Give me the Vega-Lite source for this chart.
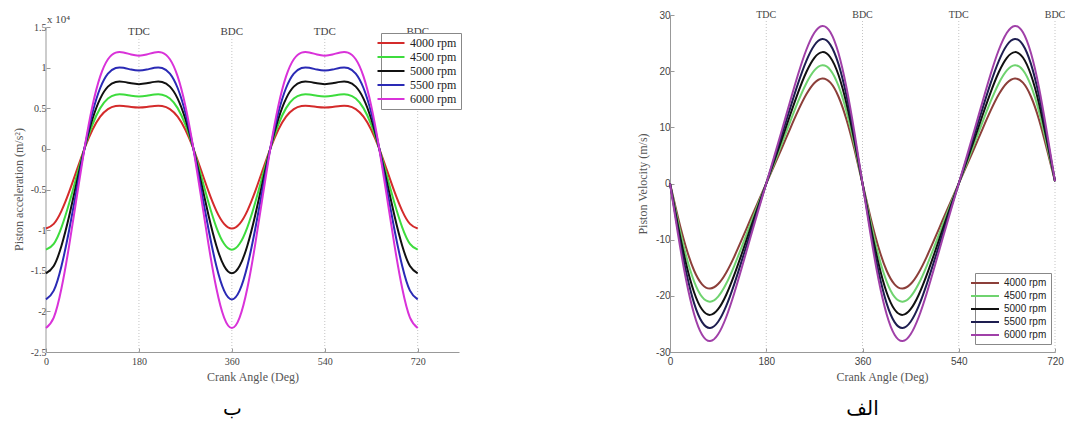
{
  "$schema": "https://vega.github.io/schema/vega-lite/v6.json",
  "background": "white",
  "padding": {"left": 12, "top": 10, "right": 0, "bottom": 0},
  "bounds": "flush",
  "spacing": 211,
  "config": {"view": {"stroke": null}},
  "datasets": {
    "acc": [
      {"deg":0,"4000 rpm":-9800,"4500 rpm":-12403,"5000 rpm":-15313,"5500 rpm":-18528,"6000 rpm":-22050},
      {"deg":15,"4000 rpm":-9231,"4500 rpm":-11683,"5000 rpm":-14423,"5500 rpm":-17452,"6000 rpm":-20770},
      {"deg":30,"4000 rpm":-7627,"4500 rpm":-9653,"5000 rpm":-11917,"5500 rpm":-14420,"6000 rpm":-17161},
      {"deg":45,"4000 rpm":-5268,"4500 rpm":-6667,"5000 rpm":-8231,"5500 rpm":-9960,"6000 rpm":-11853},
      {"deg":60,"4000 rpm":-2550,"4500 rpm":-3227,"5000 rpm":-3984,"5500 rpm":-4821,"6000 rpm":-5738},
      {"deg":75,"4000 rpm":107,"4500 rpm":135,"5000 rpm":167,"5500 rpm":202,"6000 rpm":241},
      {"deg":90,"4000 rpm":2350,"4500 rpm":2974,"5000 rpm":3672,"5500 rpm":4443,"6000 rpm":5288},
      {"deg":105,"4000 rpm":3963,"4500 rpm":5016,"5000 rpm":6192,"5500 rpm":7493,"6000 rpm":8917},
      {"deg":120,"4000 rpm":4900,"4500 rpm":6202,"5000 rpm":7656,"5500 rpm":9264,"6000 rpm":11025},
      {"deg":135,"4000 rpm":5268,"4500 rpm":6667,"5000 rpm":8231,"5500 rpm":9960,"6000 rpm":11853},
      {"deg":150,"4000 rpm":5277,"4500 rpm":6679,"5000 rpm":8245,"5500 rpm":9977,"6000 rpm":11873},
      {"deg":165,"4000 rpm":5161,"4500 rpm":6532,"5000 rpm":8064,"5500 rpm":9758,"6000 rpm":11612},
      {"deg":180,"4000 rpm":5100,"4500 rpm":6455,"5000 rpm":7969,"5500 rpm":9642,"6000 rpm":11475},
      {"deg":195,"4000 rpm":5161,"4500 rpm":6532,"5000 rpm":8064,"5500 rpm":9758,"6000 rpm":11612},
      {"deg":210,"4000 rpm":5277,"4500 rpm":6679,"5000 rpm":8245,"5500 rpm":9977,"6000 rpm":11873},
      {"deg":225,"4000 rpm":5268,"4500 rpm":6667,"5000 rpm":8231,"5500 rpm":9960,"6000 rpm":11853},
      {"deg":240,"4000 rpm":4900,"4500 rpm":6202,"5000 rpm":7656,"5500 rpm":9264,"6000 rpm":11025},
      {"deg":255,"4000 rpm":3963,"4500 rpm":5016,"5000 rpm":6192,"5500 rpm":7493,"6000 rpm":8917},
      {"deg":270,"4000 rpm":2350,"4500 rpm":2974,"5000 rpm":3672,"5500 rpm":4443,"6000 rpm":5288},
      {"deg":285,"4000 rpm":107,"4500 rpm":135,"5000 rpm":167,"5500 rpm":202,"6000 rpm":241},
      {"deg":300,"4000 rpm":-2550,"4500 rpm":-3227,"5000 rpm":-3984,"5500 rpm":-4821,"6000 rpm":-5738},
      {"deg":315,"4000 rpm":-5268,"4500 rpm":-6667,"5000 rpm":-8231,"5500 rpm":-9960,"6000 rpm":-11853},
      {"deg":330,"4000 rpm":-7627,"4500 rpm":-9653,"5000 rpm":-11917,"5500 rpm":-14420,"6000 rpm":-17161},
      {"deg":345,"4000 rpm":-9231,"4500 rpm":-11683,"5000 rpm":-14423,"5500 rpm":-17452,"6000 rpm":-20770},
      {"deg":360,"4000 rpm":-9800,"4500 rpm":-12403,"5000 rpm":-15313,"5500 rpm":-18528,"6000 rpm":-22050},
      {"deg":375,"4000 rpm":-9231,"4500 rpm":-11683,"5000 rpm":-14423,"5500 rpm":-17452,"6000 rpm":-20770},
      {"deg":390,"4000 rpm":-7627,"4500 rpm":-9653,"5000 rpm":-11917,"5500 rpm":-14420,"6000 rpm":-17161},
      {"deg":405,"4000 rpm":-5268,"4500 rpm":-6667,"5000 rpm":-8231,"5500 rpm":-9960,"6000 rpm":-11853},
      {"deg":420,"4000 rpm":-2550,"4500 rpm":-3227,"5000 rpm":-3984,"5500 rpm":-4821,"6000 rpm":-5738},
      {"deg":435,"4000 rpm":107,"4500 rpm":135,"5000 rpm":167,"5500 rpm":202,"6000 rpm":241},
      {"deg":450,"4000 rpm":2350,"4500 rpm":2974,"5000 rpm":3672,"5500 rpm":4443,"6000 rpm":5288},
      {"deg":465,"4000 rpm":3963,"4500 rpm":5016,"5000 rpm":6192,"5500 rpm":7493,"6000 rpm":8917},
      {"deg":480,"4000 rpm":4900,"4500 rpm":6202,"5000 rpm":7656,"5500 rpm":9264,"6000 rpm":11025},
      {"deg":495,"4000 rpm":5268,"4500 rpm":6667,"5000 rpm":8231,"5500 rpm":9960,"6000 rpm":11853},
      {"deg":510,"4000 rpm":5277,"4500 rpm":6679,"5000 rpm":8245,"5500 rpm":9977,"6000 rpm":11873},
      {"deg":525,"4000 rpm":5161,"4500 rpm":6532,"5000 rpm":8064,"5500 rpm":9758,"6000 rpm":11612},
      {"deg":540,"4000 rpm":5100,"4500 rpm":6455,"5000 rpm":7969,"5500 rpm":9642,"6000 rpm":11475},
      {"deg":555,"4000 rpm":5161,"4500 rpm":6532,"5000 rpm":8064,"5500 rpm":9758,"6000 rpm":11612},
      {"deg":570,"4000 rpm":5277,"4500 rpm":6679,"5000 rpm":8245,"5500 rpm":9977,"6000 rpm":11873},
      {"deg":585,"4000 rpm":5268,"4500 rpm":6667,"5000 rpm":8231,"5500 rpm":9960,"6000 rpm":11853},
      {"deg":600,"4000 rpm":4900,"4500 rpm":6202,"5000 rpm":7656,"5500 rpm":9264,"6000 rpm":11025},
      {"deg":615,"4000 rpm":3963,"4500 rpm":5016,"5000 rpm":6192,"5500 rpm":7493,"6000 rpm":8917},
      {"deg":630,"4000 rpm":2350,"4500 rpm":2974,"5000 rpm":3672,"5500 rpm":4443,"6000 rpm":5288},
      {"deg":645,"4000 rpm":107,"4500 rpm":135,"5000 rpm":167,"5500 rpm":202,"6000 rpm":241},
      {"deg":660,"4000 rpm":-2550,"4500 rpm":-3227,"5000 rpm":-3984,"5500 rpm":-4821,"6000 rpm":-5738},
      {"deg":675,"4000 rpm":-5268,"4500 rpm":-6667,"5000 rpm":-8231,"5500 rpm":-9960,"6000 rpm":-11853},
      {"deg":690,"4000 rpm":-7627,"4500 rpm":-9653,"5000 rpm":-11917,"5500 rpm":-14420,"6000 rpm":-17161},
      {"deg":705,"4000 rpm":-9231,"4500 rpm":-11683,"5000 rpm":-14423,"5500 rpm":-17452,"6000 rpm":-20770},
      {"deg":720,"4000 rpm":-9800,"4500 rpm":-12403,"5000 rpm":-15313,"5500 rpm":-18528,"6000 rpm":-22050}
    ],
    "vel": [
      {"deg":0,"4000 rpm":0,"4500 rpm":0,"5000 rpm":0,"5500 rpm":0,"6000 rpm":0},
      {"deg":15,"4000 rpm":-6.05,"4500 rpm":-6.8,"5000 rpm":-7.56,"5500 rpm":-8.31,"6000 rpm":-9.07},
      {"deg":30,"4000 rpm":-11.4,"4500 rpm":-12.83,"5000 rpm":-14.25,"5500 rpm":-15.67,"6000 rpm":-17.1},
      {"deg":45,"4000 rpm":-15.49,"4500 rpm":-17.42,"5000 rpm":-19.36,"5500 rpm":-21.29,"6000 rpm":-23.23},
      {"deg":60,"4000 rpm":-17.95,"4500 rpm":-20.2,"5000 rpm":-22.44,"5500 rpm":-24.68,"6000 rpm":-26.93},
      {"deg":75,"4000 rpm":-18.7,"4500 rpm":-21.04,"5000 rpm":-23.39,"5500 rpm":-25.72,"6000 rpm":-28.06},
      {"deg":90,"4000 rpm":-17.9,"4500 rpm":-20.14,"5000 rpm":-22.38,"5500 rpm":-24.61,"6000 rpm":-26.85},
      {"deg":105,"4000 rpm":-15.88,"4500 rpm":-17.86,"5000 rpm":-19.85,"5500 rpm":-21.83,"6000 rpm":-23.81},
      {"deg":120,"4000 rpm":-13.05,"4500 rpm":-14.69,"5000 rpm":-16.32,"5500 rpm":-17.95,"6000 rpm":-19.58},
      {"deg":135,"4000 rpm":-9.83,"4500 rpm":-11.06,"5000 rpm":-12.29,"5500 rpm":-13.51,"6000 rpm":-14.74},
      {"deg":150,"4000 rpm":-6.5,"4500 rpm":-7.32,"5000 rpm":-8.13,"5500 rpm":-8.94,"6000 rpm":-9.75},
      {"deg":165,"4000 rpm":-3.22,"4500 rpm":-3.62,"5000 rpm":-4.02,"5500 rpm":-4.43,"6000 rpm":-4.83},
      {"deg":180,"4000 rpm":0,"4500 rpm":0,"5000 rpm":0,"5500 rpm":0,"6000 rpm":0},
      {"deg":195,"4000 rpm":3.22,"4500 rpm":3.62,"5000 rpm":4.02,"5500 rpm":4.43,"6000 rpm":4.83},
      {"deg":210,"4000 rpm":6.5,"4500 rpm":7.32,"5000 rpm":8.13,"5500 rpm":8.94,"6000 rpm":9.75},
      {"deg":225,"4000 rpm":9.83,"4500 rpm":11.06,"5000 rpm":12.29,"5500 rpm":13.51,"6000 rpm":14.74},
      {"deg":240,"4000 rpm":13.05,"4500 rpm":14.69,"5000 rpm":16.32,"5500 rpm":17.95,"6000 rpm":19.58},
      {"deg":255,"4000 rpm":15.88,"4500 rpm":17.86,"5000 rpm":19.85,"5500 rpm":21.83,"6000 rpm":23.81},
      {"deg":270,"4000 rpm":17.9,"4500 rpm":20.14,"5000 rpm":22.38,"5500 rpm":24.61,"6000 rpm":26.85},
      {"deg":285,"4000 rpm":18.7,"4500 rpm":21.04,"5000 rpm":23.39,"5500 rpm":25.72,"6000 rpm":28.06},
      {"deg":300,"4000 rpm":17.95,"4500 rpm":20.2,"5000 rpm":22.44,"5500 rpm":24.68,"6000 rpm":26.93},
      {"deg":315,"4000 rpm":15.49,"4500 rpm":17.42,"5000 rpm":19.36,"5500 rpm":21.29,"6000 rpm":23.23},
      {"deg":330,"4000 rpm":11.4,"4500 rpm":12.83,"5000 rpm":14.25,"5500 rpm":15.67,"6000 rpm":17.1},
      {"deg":345,"4000 rpm":6.05,"4500 rpm":6.8,"5000 rpm":7.56,"5500 rpm":8.31,"6000 rpm":9.07},
      {"deg":360,"4000 rpm":0,"4500 rpm":0,"5000 rpm":0,"5500 rpm":0,"6000 rpm":0},
      {"deg":375,"4000 rpm":-6.05,"4500 rpm":-6.8,"5000 rpm":-7.56,"5500 rpm":-8.31,"6000 rpm":-9.07},
      {"deg":390,"4000 rpm":-11.4,"4500 rpm":-12.83,"5000 rpm":-14.25,"5500 rpm":-15.67,"6000 rpm":-17.1},
      {"deg":405,"4000 rpm":-15.49,"4500 rpm":-17.42,"5000 rpm":-19.36,"5500 rpm":-21.29,"6000 rpm":-23.23},
      {"deg":420,"4000 rpm":-17.95,"4500 rpm":-20.2,"5000 rpm":-22.44,"5500 rpm":-24.68,"6000 rpm":-26.93},
      {"deg":435,"4000 rpm":-18.7,"4500 rpm":-21.04,"5000 rpm":-23.39,"5500 rpm":-25.72,"6000 rpm":-28.06},
      {"deg":450,"4000 rpm":-17.9,"4500 rpm":-20.14,"5000 rpm":-22.38,"5500 rpm":-24.61,"6000 rpm":-26.85},
      {"deg":465,"4000 rpm":-15.88,"4500 rpm":-17.86,"5000 rpm":-19.85,"5500 rpm":-21.83,"6000 rpm":-23.81},
      {"deg":480,"4000 rpm":-13.05,"4500 rpm":-14.69,"5000 rpm":-16.32,"5500 rpm":-17.95,"6000 rpm":-19.58},
      {"deg":495,"4000 rpm":-9.83,"4500 rpm":-11.06,"5000 rpm":-12.29,"5500 rpm":-13.51,"6000 rpm":-14.74},
      {"deg":510,"4000 rpm":-6.5,"4500 rpm":-7.32,"5000 rpm":-8.13,"5500 rpm":-8.94,"6000 rpm":-9.75},
      {"deg":525,"4000 rpm":-3.22,"4500 rpm":-3.62,"5000 rpm":-4.02,"5500 rpm":-4.43,"6000 rpm":-4.83},
      {"deg":540,"4000 rpm":0,"4500 rpm":0,"5000 rpm":0,"5500 rpm":0,"6000 rpm":0},
      {"deg":555,"4000 rpm":3.22,"4500 rpm":3.62,"5000 rpm":4.02,"5500 rpm":4.43,"6000 rpm":4.83},
      {"deg":570,"4000 rpm":6.5,"4500 rpm":7.32,"5000 rpm":8.13,"5500 rpm":8.94,"6000 rpm":9.75},
      {"deg":585,"4000 rpm":9.83,"4500 rpm":11.06,"5000 rpm":12.29,"5500 rpm":13.51,"6000 rpm":14.74},
      {"deg":600,"4000 rpm":13.05,"4500 rpm":14.69,"5000 rpm":16.32,"5500 rpm":17.95,"6000 rpm":19.58},
      {"deg":615,"4000 rpm":15.88,"4500 rpm":17.86,"5000 rpm":19.85,"5500 rpm":21.83,"6000 rpm":23.81},
      {"deg":630,"4000 rpm":17.9,"4500 rpm":20.14,"5000 rpm":22.38,"5500 rpm":24.61,"6000 rpm":26.85},
      {"deg":645,"4000 rpm":18.7,"4500 rpm":21.04,"5000 rpm":23.39,"5500 rpm":25.72,"6000 rpm":28.06},
      {"deg":660,"4000 rpm":17.95,"4500 rpm":20.2,"5000 rpm":22.44,"5500 rpm":24.68,"6000 rpm":26.93},
      {"deg":675,"4000 rpm":15.49,"4500 rpm":17.42,"5000 rpm":19.36,"5500 rpm":21.29,"6000 rpm":23.23},
      {"deg":690,"4000 rpm":11.4,"4500 rpm":12.83,"5000 rpm":14.25,"5500 rpm":15.67,"6000 rpm":17.1},
      {"deg":705,"4000 rpm":6.05,"4500 rpm":6.8,"5000 rpm":7.56,"5500 rpm":8.31,"6000 rpm":9.07},
      {"deg":720,"4000 rpm":0.4,"4500 rpm":0.4,"5000 rpm":0.4,"5500 rpm":0.4,"6000 rpm":0.4}
    ],
    "marks": [
      {"deg":180,"label":"TDC"},
      {"deg":360,"label":"BDC"},
      {"deg":540,"label":"TDC"},
      {"deg":720,"label":"BDC"}
    ]
  },
  "hconcat": [
    {
      "width": 413,
      "height": 337,
      "title": {"text": "ب", "orient": "bottom", "font": "DejaVu Sans", "fontSize": 20, "fontWeight": "normal", "color": "#000000", "dx": -20, "offset": 17},
      "layer": [
        {
          "data": {"name": "marks"},
          "mark": {"type": "rule", "stroke": "#c4c4c4", "strokeDash": [1, 2], "strokeWidth": 1},
          "encoding": {
            "x": {"field": "deg", "type": "quantitative", "scale": {"domain": [0, 800], "nice": false}},
            "y": {"datum": -25000, "type": "quantitative", "scale": {"domain": [-25000, 16477], "nice": false}},
            "y2": {"datum": 13800}
          }
        },
        {
          "data": {"name": "marks"},
          "mark": {"type": "text", "font": "Liberation Serif", "fontSize": 11, "color": "#444444", "baseline": "middle", "dy": 5},
          "encoding": {
            "x": {"field": "deg", "type": "quantitative"},
            "y": {"datum": 15000, "type": "quantitative"},
            "text": {"field": "label"}
          }
        },
        {
          "data": {"values": [{}]},
          "mark": {"type": "rule", "stroke": "#999999", "strokeWidth": 1},
          "encoding": {
            "x": {"datum": 0, "type": "quantitative"},
            "y": {"datum": -25000, "type": "quantitative"},
            "y2": {"datum": 15000}
          }
        },
        {
          "data": {"values": [{"label": "x 10⁴"}]},
          "mark": {"type": "text", "font": "Liberation Serif", "fontSize": 11, "color": "#444444", "align": "left", "baseline": "alphabetic", "dx": 1, "dy": -4},
          "encoding": {
            "x": {"datum": 0, "type": "quantitative"},
            "y": {"datum": 15000, "type": "quantitative"},
            "text": {"field": "label"}
          }
        },
        {
          "data": {"name": "acc"},
          "transform": [{"fold": ["4000 rpm", "4500 rpm", "5000 rpm", "5500 rpm", "6000 rpm"], "as": ["rpm", "acc"]}],
          "mark": {"type": "line", "strokeWidth": 2, "interpolate": "natural"},
          "encoding": {
            "x": {
              "field": "deg", "type": "quantitative",
              "axis": {"values": [0, 180, 360, 540, 720], "title": "Crank Angle (Deg)", "grid": false, "tickSize": -4, "labelFlush": false, "labelFont": "Liberation Serif", "labelFontSize": 10, "labelColor": "#444444", "domainColor": "#999999", "tickColor": "#999999", "labelPadding": 8, "titleFont": "Liberation Serif", "titleFontSize": 12, "titleFontWeight": "normal", "titleColor": "#555555", "titlePadding": 5}
            },
            "y": {
              "field": "acc", "type": "quantitative",
              "axis": {"values": [-25000, -20000, -15000, -10000, -5000, 0, 5000, 10000, 15000], "labelExpr": "'' + (datum.value / 10000)", "title": "Piston acceleration (m/s²)", "titleY": 174, "grid": false, "domain": false, "tickSize": -4, "labelFlush": false, "labelOverlap": false, "labelFont": "Liberation Serif", "labelFontSize": 10, "labelColor": "#444444", "tickColor": "#999999", "labelPadding": 4, "titleFont": "Liberation Serif", "titleFontSize": 12, "titleFontWeight": "normal", "titleColor": "#555555", "titlePadding": 5}
            },
            "color": {
              "field": "rpm", "type": "nominal",
              "scale": {"domain": ["4000 rpm", "4500 rpm", "5000 rpm", "5500 rpm", "6000 rpm"], "range": ["#d42b2b", "#3ddc3d", "#111111", "#2a2ab5", "#d932d9"]},
              "legend": {"orient": "none", "legendX": 335, "legendY": 18, "title": null, "symbolType": "M-2.7,0H2.7", "symbolSize": 100, "symbolStrokeWidth": 2, "labelFont": "Liberation Serif", "labelFontSize": 12, "labelColor": "#222222", "labelOffset": 13, "rowPadding": 2, "padding": 4, "strokeColor": "#888888", "fillColor": "white"}
            }
          }
        }
      ]
    },
    {
      "width": 385,
      "height": 337,
      "title": {"text": "الف", "orient": "bottom", "font": "DejaVu Sans", "fontSize": 20, "fontWeight": "normal", "color": "#000000", "dx": 0, "offset": 17},
      "layer": [
        {
          "data": {"name": "marks"},
          "mark": {"type": "rule", "stroke": "#c4c4c4", "strokeDash": [1, 2], "strokeWidth": 1},
          "encoding": {
            "x": {"field": "deg", "type": "quantitative", "scale": {"domain": [0, 720], "nice": false}},
            "y": {"datum": -30, "type": "quantitative", "scale": {"domain": [-30, 30], "nice": false}},
            "y2": {"datum": 29}
          }
        },
        {
          "data": {"name": "marks"},
          "mark": {"type": "text", "font": "Liberation Serif", "fontSize": 10, "color": "#444444", "baseline": "middle"},
          "encoding": {
            "x": {"field": "deg", "type": "quantitative"},
            "y": {"datum": 30, "type": "quantitative"},
            "text": {"field": "label"}
          }
        },
        {
          "data": {"name": "vel"},
          "transform": [{"fold": ["4000 rpm", "4500 rpm", "5000 rpm", "5500 rpm", "6000 rpm"], "as": ["rpm", "vel"]}],
          "mark": {"type": "line", "strokeWidth": 2, "interpolate": "natural"},
          "encoding": {
            "x": {
              "field": "deg", "type": "quantitative",
              "axis": {"values": [0, 180, 360, 540, 720], "labelExpr": "'' + datum.value", "title": "Crank Angle (Deg)", "titleX": 212, "grid": false, "tickSize": -4, "labelFlush": false, "labelFont": "Liberation Sans", "labelFontSize": 10, "labelColor": "#444444", "domainColor": "#999999", "tickColor": "#999999", "labelPadding": 8, "titleFont": "Liberation Serif", "titleFontSize": 12, "titleFontWeight": "normal", "titleColor": "#555555", "titlePadding": 5}
            },
            "y": {
              "field": "vel", "type": "quantitative",
              "axis": {"values": [-30, -20, -10, 0, 10, 20, 30], "labelExpr": "'' + datum.value", "title": "Piston Velocity (m/s)", "grid": false, "tickSize": -4, "labelFlush": false, "labelOverlap": false, "labelFont": "Liberation Sans", "labelFontSize": 10, "labelColor": "#444444", "domainColor": "#999999", "tickColor": "#999999", "labelPadding": 4, "titleFont": "Liberation Serif", "titleFontSize": 12, "titleFontWeight": "normal", "titleColor": "#555555", "titlePadding": 6}
            },
            "color": {
              "field": "rpm", "type": "nominal",
              "scale": {"domain": ["4000 rpm", "4500 rpm", "5000 rpm", "5500 rpm", "6000 rpm"], "range": ["#8c3f3a", "#6fd36f", "#111111", "#1e1e50", "#a040a8"]},
              "legend": {"orient": "none", "legendX": 305, "legendY": 258, "title": null, "symbolType": "M-2.8,0H2.8", "symbolSize": 100, "symbolStrokeWidth": 2, "labelFont": "Liberation Sans", "labelFontSize": 10, "labelColor": "#222222", "labelOffset": 13, "rowPadding": 2, "padding": 4, "strokeColor": "#888888", "fillColor": "white"}
            }
          }
        }
      ]
    }
  ],
  "resolve": {"scale": {"color": "independent", "x": "independent", "y": "independent"}, "legend": {"color": "independent"}}
}
